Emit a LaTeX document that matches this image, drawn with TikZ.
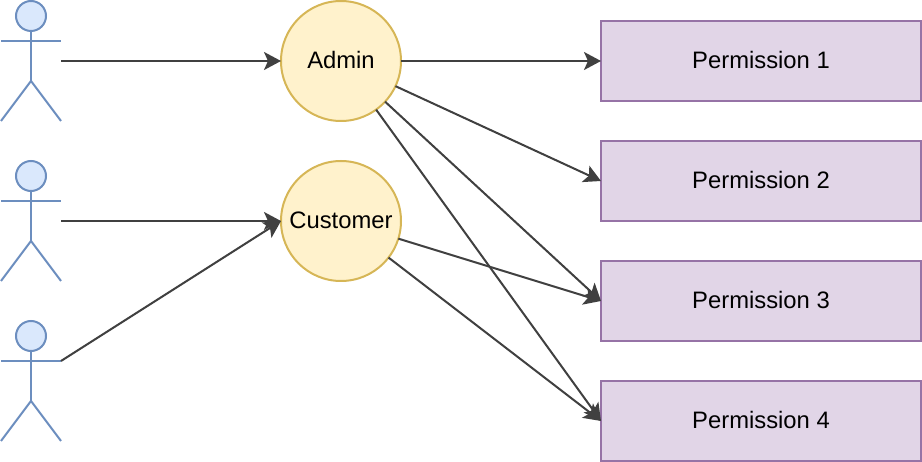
\documentclass[tikz,border=0pt]{standalone}
\usepackage{fontspec}
\setmainfont{Liberation Sans}
\usepackage{tikz}
\usetikzlibrary{arrows.meta}
\definecolor{actorfill}{HTML}{DAE8FC}
\definecolor{actorline}{HTML}{6C8EBF}
\definecolor{rolefill}{HTML}{FFF2CC}
\definecolor{roleline}{HTML}{D6B656}
\definecolor{permfill}{HTML}{E1D5E7}
\definecolor{permline}{HTML}{9673A6}
\definecolor{linkline}{HTML}{404040}
\tikzset{
	x=1pt, y=-1pt,
	role/.style={shape=circle,draw=roleline,fill=rolefill,line width=2pt,minimum size=120pt,inner sep=0pt,outer sep=0pt,text depth=2pt,font=\fontsize{23.8}{26}\selectfont},
	perm/.style={shape=rectangle,draw=permline,fill=permfill,line width=2pt,minimum width=320pt,minimum height=80pt,inner sep=0pt,outer sep=0pt,text depth=2pt,font=\fontsize{23.8}{26}\selectfont},
	link/.style={draw=linkline,line width=2pt,-{Stealth[length=17pt,width=18pt,inset=4pt]}},
	limb/.style={draw=actorline,line width=2pt},
	head/.style={shape=circle,draw=actorline,fill=actorfill,line width=2pt,minimum size=30pt,inner sep=0pt,outer sep=0pt},
}
\newcommand{\actor}[2]{%
	\node[head] (#1h) at (31, #2+15) {};
	\coordinate (#1n) at (31, #2+30);
	\coordinate (#1w) at (31, #2+80);
	\coordinate (#1l) at (1, #2+40);
	\coordinate (#1r) at (61, #2+40);
	\coordinate (#1m) at (61, #2+60);
	\coordinate (#1f) at (1, #2+120);
	\coordinate (#1g) at (61, #2+120);
	\draw[limb] (#1n) -- (#1w);
	\draw[limb] (#1l) -- (#1r);
	\draw[limb] (#1f) -- (#1w) -- (#1g);
}
\begin{document}
\begin{tikzpicture}
	\useasboundingbox (0, 0) rectangle (922, 462);
	
	\actor{p}{1}
	\actor{q}{161}
	\actor{s}{321}
	
	\node[role] (admin) at (341, 61)     {Admin};
	\node[role] (customer) at (341, 221) {Customer};
	
	\node[perm] (one) at (761, 61)     {Permission 1};
	\node[perm] (two) at (761, 181)    {Permission 2};
	\node[perm] (three) at (761, 301)  {Permission 3};
	\node[perm] (four) at (761, 421)   {Permission 4};
	
	\draw[link] (pm) -- (admin.west);
	\draw[link] (qm) -- (customer.west);
	\draw[link] (sr) -- (customer.west);
	
	\draw[link] (admin) -- (one.west);
	\draw[link] (admin) -- (two.west);
	\draw[link] (admin) -- (three.west);
	\draw[link] (admin) -- (four.west);
	\draw[link] (customer) -- (three.west);
	\draw[link] (customer) -- (four.west);
	
\end{tikzpicture}
\end{document}
